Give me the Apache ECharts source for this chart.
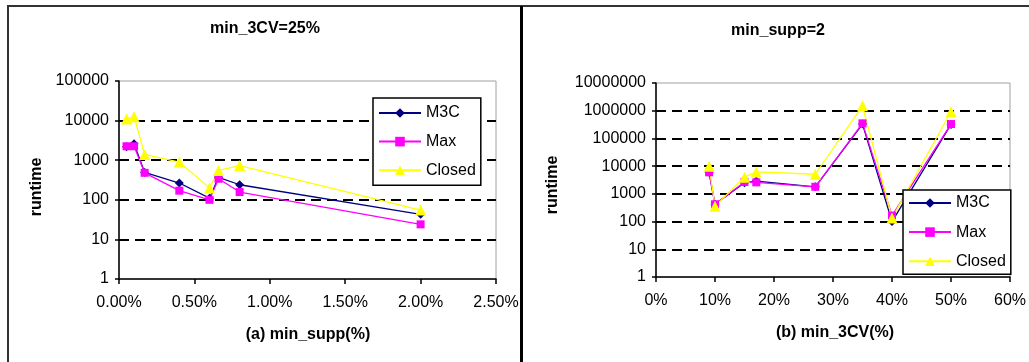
<!DOCTYPE html>
<html>
<head>
<meta charset="utf-8">
<script src="https://cdn.jsdelivr.net/npm/echarts@6/dist/echarts.min.js"></script>
<style>
  html, body { margin: 0; padding: 0; background: #fff; }
  #chart { width: 1029px; height: 362px; }
</style>
</head>
<body>
<div id="chart"></div>
<script>
// (a) runtime against min_supp, with min_3CV fixed at 25%
const supportPct = [0.05, 0.1, 0.17, 0.4, 0.6, 0.66, 0.8, 2.0];
const m3cBySupport = [2200, 2600, 490, 265, 110, 370, 240, 43];
const maxBySupport = [2250, 2250, 480, 170, 100, 340, 157, 24];
const closedBySupport = [11000, 12600, 1400, 900, 200, 550, 730, 55];

// (b) runtime against min_3CV, with min_supp fixed at 2
const cvPct = [9, 10, 15, 17, 27, 35, 40, 50];
const m3cByCv = [6000, 420, 2500, 2900, 1800, 330000, 100, 320000];
const maxByCv = [6000, 420, 2700, 2600, 1800, 350000, 165, 330000];
const closedByCv = [10000, 360, 4000, 6200, 5100, 1500000, 135, 920000];

const seriesNames = ['M3C', 'Max', 'Closed'];
const seriesColors = ['#000080', '#ff00ff', '#ffff00'];
const seriesSymbols = ['diamond', 'rect', 'triangle'];
const symbolSizes = [9, 8, 11];

const FONT = '"Liberation Sans", Arial, sans-serif';
const FS = 16;

function pairs(xs, ys) { return xs.map((x, i) => [x, ys[i]]); }

function makeSeries(gridIdx, xs, ysList) {
  return ysList.map((ys, i) => ({
    name: seriesNames[i],
    type: 'line',
    xAxisIndex: gridIdx,
    yAxisIndex: gridIdx,
    data: pairs(xs, ys),
    symbol: seriesSymbols[i],
    symbolSize: symbolSizes[i],
    showAllSymbol: true,
    lineStyle: { color: seriesColors[i], width: 1.3 },
    itemStyle: { color: seriesColors[i], borderWidth: 0 },
    emphasis: { disabled: true },
    animation: false
  }));
}

function logAxis(gridIdx, maxVal, decades) {
  return {
    type: 'log', logBase: 10, gridIndex: gridIdx,
    min: 1, max: maxVal, splitNumber: decades,
    axisLine: { show: true, lineStyle: { color: '#000', width: 1.5 } },
    axisTick: { show: true, length: 4, lineStyle: { color: '#000', width: 1.5 } },
    axisLabel: {
      color: '#000', fontSize: FS, fontFamily: FONT, margin: 10,
      formatter: v => String(Math.round(v))
    },
    splitLine: {
      show: true, showMinLine: false, showMaxLine: false,
      lineStyle: { color: '#000', width: 1.8, type: [10, 6] }
    }
  };
}

function valueAxis(gridIdx, maxVal, step, fmt) {
  return {
    type: 'value', gridIndex: gridIdx,
    min: 0, max: maxVal, interval: step,
    axisLine: { show: true, onZero: false, lineStyle: { color: '#000', width: 1.5 } },
    axisTick: { show: true, length: 5, lineStyle: { color: '#000', width: 1.5 } },
    axisLabel: { color: '#000', fontSize: FS, fontFamily: FONT, margin: 16, formatter: fmt, showMaxLabel: true },
    splitLine: { show: false }
  };
}

function legendAt(left, top, gap, pad) {
  return {
    data: seriesNames, left: left, top: top, orient: 'vertical',
    selectedMode: false,
    itemWidth: 42, itemHeight: 12, itemGap: gap,
    padding: pad,
    backgroundColor: '#fff', borderColor: '#000', borderWidth: 1.5, borderRadius: 0,
    textStyle: { color: '#000', fontSize: FS, fontFamily: FONT, lineHeight: 14 }
  };
}

function label(text, x, y, bold, rotate) {
  return {
    type: 'text', x: x, y: y, rotation: rotate ? Math.PI / 2 : 0, z: 10,
    style: {
      text: text, fill: '#000', fontSize: FS, fontFamily: FONT,
      fontWeight: bold ? 'bold' : 'normal', align: 'center', verticalAlign: 'middle'
    }
  };
}

const chart = echarts.init(document.getElementById('chart'), null, { renderer: 'canvas' });

chart.setOption({
  backgroundColor: '#fff',
  animation: false,
  grid: [
    { left: 119, top: 81, width: 377, height: 198, show: true, borderColor: '#a0a0a0', borderWidth: 1, backgroundColor: 'transparent' },
    { left: 656, top: 83, width: 360, height: 194, show: true, borderColor: '#a0a0a0', borderWidth: 1, backgroundColor: 'transparent' }
  ],
  xAxis: [
    valueAxis(0, 2.5, 0.5, v => v.toFixed(2) + '%'),
    valueAxis(1, 60, 10, v => v + '%')
  ],
  yAxis: [
    logAxis(0, 100000, 5),
    logAxis(1, 10000000, 7)
  ],
  legend: [
    legendAt(373, 98, 12.6, [7, 5, 7, 5]),
    legendAt(903, 190, 13.1, [5, 5, 5, 5])
  ],
  series: [
    ...makeSeries(0, supportPct, [m3cBySupport, maxBySupport, closedBySupport]),
    ...makeSeries(1, cvPct, [m3cByCv, maxByCv, closedByCv])
  ],
  graphic: [
    // panel frames
    { type: 'polyline', z: 20, shape: { points: [[8, 362], [8, 6], [1029, 6]] }, style: { stroke: '#333', lineWidth: 2, fill: null } },
    { type: 'line', z: 20, shape: { x1: 521.5, y1: 6, x2: 521.5, y2: 362 }, style: { stroke: '#000', lineWidth: 3 } },
    // titles and axis names
    label('min_3CV=25%', 265, 29, true),
    label('runtime', 37, 187, true, true),
    label('(a) min_supp(%)', 308, 335, true),
    label('min_supp=2', 778, 31, true),
    label('runtime', 553, 185, true, true),
    label('(b) min_3CV(%)', 835, 333, true)
  ]
});
</script>
</body>
</html>
